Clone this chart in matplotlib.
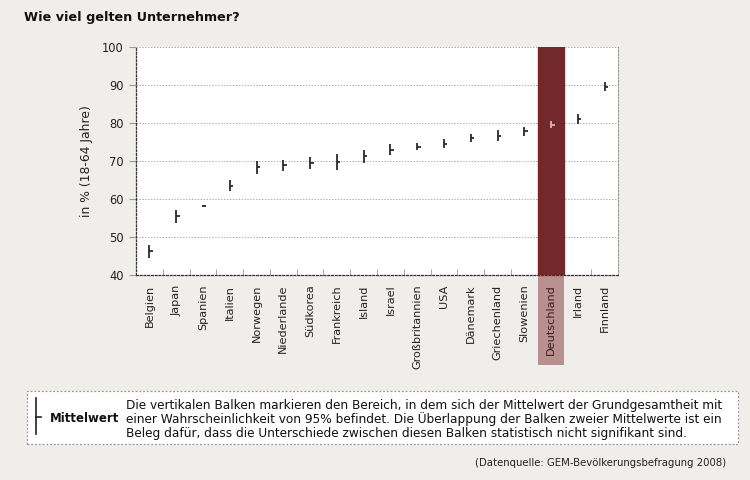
import matplotlib.pyplot as plt
from matplotlib.patches import Rectangle
from matplotlib.lines import Line2D
import matplotlib.transforms as mtransforms

plt.rcParams['font.family'] = ['DejaVu Sans']

# data
countries = ['Belgien', 'Japan', 'Spanien', 'Italien', 'Norwegen', 'Niederlande',
             'Südkorea', 'Frankreich', 'Island', 'Israel', 'Großbritannien', 'USA',
             'Dänemark', 'Griechenland', 'Slowenien', 'Deutschland', 'Irland', 'Finnland']
means = [46.2, 55.5, 58.2, 63.5, 68.4, 68.9, 69.4, 69.7, 71.2, 73.0, 73.8, 74.5,
         76.1, 76.7, 77.8, 79.6, 81.1, 89.6]
half_ci = [1.7, 1.7, 0.3, 1.5, 1.7, 1.4, 1.6, 2.1, 1.6, 1.5, 0.9, 1.2,
           1.05, 1.5, 1.2, 0.9, 1.3, 1.1]
highlight = 'Deutschland'
y_ticks = [40, 50, 60, 70, 80, 90, 100]

bg = '#efeeea'
dark_red = '#73282c'
pale_red = '#b99090'

fig = plt.figure(figsize=(7.5, 4.8), dpi=100)
fig.patch.set_facecolor(bg)
ax = fig.add_axes([136 / 750, 1 - 275 / 480, 482 / 750, 228 / 480])
ax.set_facecolor('white')

x = list(range(len(countries)))
hi_idx = countries.index(highlight)

# highlighted country column
ax.axvspan(hi_idx - 0.5, hi_idx + 0.5, color=dark_red, zorder=1)
trans = mtransforms.blended_transform_factory(ax.transData, ax.transAxes)
ax.add_patch(Rectangle((hi_idx - 0.5, -0.395), 1, 0.395, transform=trans,
                       facecolor=pale_red, edgecolor='none', clip_on=False, zorder=0))

# confidence bars with mean tick
colors = ['#dcb4b4' if c == highlight else '#2a2a2a' for c in countries]
lo = [m - h for m, h in zip(means, half_ci)]
hi = [m + h for m, h in zip(means, half_ci)]
ax.vlines(x, lo, hi, colors=colors, lw=1.3, zorder=3)
ax.hlines(means, x, [i + 0.13 for i in x], colors=colors, lw=1.3, zorder=3)

ax.set_xlim(-0.5, len(countries) - 0.5)
ax.set_ylim(40, 100)
ax.set_yticks(y_ticks)
ax.set_yticklabels([str(v) for v in y_ticks], fontsize=8.3, color='#222222')
ax.tick_params(axis='y', length=5, color='#999999', pad=4)
ax.yaxis.grid(True, linestyle=(0, (1.5, 1.5)), color='#b0b0b0', lw=0.7, zorder=0)
ax.set_axisbelow(True)

ax.set_xticks(x)
ax.set_xticklabels(countries, rotation=90, fontsize=8.1, color='#222222')
ax.tick_params(axis='x', length=0, pad=7)
ax.set_xticks([i + 0.5 for i in x[:-1]], minor=True)
ax.tick_params(axis='x', which='minor', direction='in', length=4, color='#999999')
for lbl in ax.get_xticklabels():
    if lbl.get_text() == highlight:
        lbl.set_color('#3c1c1c')

ax.set_ylabel('in % (18-64 Jahre)', fontsize=8.9, color='#222222', labelpad=6)

for side in ['left', 'bottom']:
    ax.spines[side].set_linestyle((0, (1.5, 1.5)))
    ax.spines[side].set_color('#333333')
    ax.spines[side].set_linewidth(0.9)
ax.spines['right'].set_linestyle((0, (1.5, 1.5)))
ax.spines['right'].set_color('#999999')
ax.spines['top'].set_visible(False)

fig.text(24 / 750, 1 - 17 / 480, 'Wie viel gelten Unternehmer?', fontsize=9.2,
         fontweight='bold', color='#111111', va='center', ha='left')

# legend box
fig.add_artist(Rectangle((27 / 750, 1 - 444 / 480), 711 / 750, 53 / 480,
                         transform=fig.transFigure, facecolor='white',
                         edgecolor='#999999', linestyle=(0, (1.5, 1.5)), lw=0.9))
fig.add_artist(Line2D([36 / 750, 36 / 750], [1 - 398 / 480, 1 - 434 / 480],
                      transform=fig.transFigure, color='#222222', lw=1.2))
fig.add_artist(Line2D([36 / 750, 41 / 750], [1 - 417 / 480, 1 - 417 / 480],
                      transform=fig.transFigure, color='#222222', lw=1.2))
fig.text(50 / 750, 1 - 418 / 480, 'Mittelwert', fontsize=8.5, fontweight='bold',
         color='#111111', va='center', ha='left')
legend_lines = [
    'Die vertikalen Balken markieren den Bereich, in dem sich der Mittelwert der Grundgesamtheit mit',
    'einer Wahrscheinlichkeit von 95% befindet. Die Überlappung der Balken zweier Mittelwerte ist ein',
    'Beleg dafür, dass die Unterschiede zwischen diesen Balken statistisch nicht signifikant sind.',
]
for i, line in enumerate(legend_lines):
    fig.text(126 / 750, 1 - (405 + i * 14) / 480, line, fontsize=8.7,
             color='#111111', va='center', ha='left')

fig.text(726 / 750, 1 - 463 / 480, '(Datenquelle: GEM-Bevölkerungsbefragung 2008)',
         fontsize=7.25, color='#222222', va='center', ha='right')

fig.savefig('out.png', dpi=100, facecolor=bg)
